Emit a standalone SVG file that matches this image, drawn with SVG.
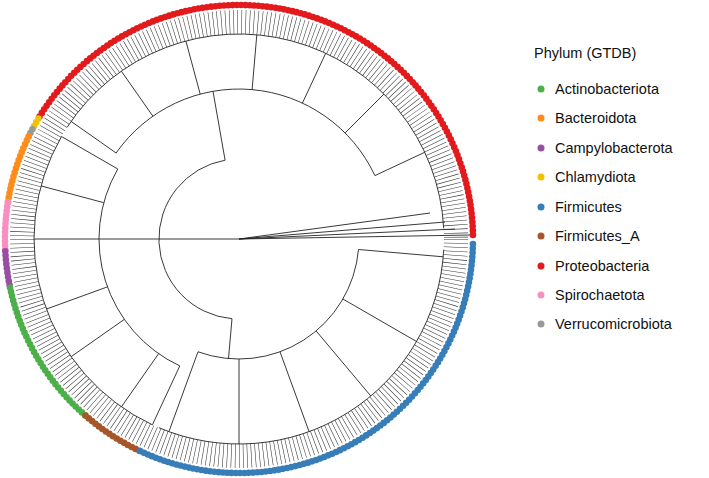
<svg xmlns="http://www.w3.org/2000/svg" width="709" height="478" viewBox="0 0 709 478">
<style>
.br{fill:none;stroke:#222;stroke-width:0.9}
.dot{fill:none;stroke-width:6.6;stroke-linecap:round;stroke-dasharray:0 4.3}
.lt{font-family:"Liberation Sans",Arial,sans-serif;font-size:14.5px;fill:#111}
</style>
<rect width="709" height="478" fill="#fff"/>
<g id="tree" class="br">
<circle cx="239" cy="239" r="217" stroke-width="24" stroke="#333" stroke-dasharray="0.55 3.5" fill="none"/>
<path d="M225.1,160.2 A80,80 0 0 0 232,318.7"/>
<path d="M239,239 L159,239 M239,239 L470,235 M239,239 L455,229 M239,239 L445,222 M239,239 L430,213"/>
<path d="M225.1,160.2 L213,91.3 M374.9,175.6 A150,150 0 0 0 116.1,153"/>
<path d="M374.9,175.6L424.7,152.3M345.1,132.9L383.9,94.1M302.4,103.1L325.7,53.3M252.1,89.6L256.8,34.8M200.2,94.1L185.9,41M152.9,116.2L121.3,71.1M116.1,153L71.1,121.4"/>
<path d="M232,318.7 L228.5,358.5 M198,351.8 A120,120 0 0 0 358.5,249.5"/>
<path d="M198,351.8L168.9,431.7M239,359L239,444M280,351.8L309.1,431.7M316.2,331L370.8,396M342.9,299L416.5,341.5M358.5,249.5L443.2,256.8"/>
<path d="M159,239 L99,239 M117.8,169 A140,140 0 0 0 179.8,365.9"/>
<path d="M117.8,169L61.5,136.5M103.8,202.7L41,185.9M99,239L34,239M107.4,286.9L46.3,309.1M124.3,319.4L71.1,356.7M158.6,353.7L121.3,407M179.8,365.9L152.4,424.8"/>
<path d="M443.7,228.3 A205,205 0 0 0 67.1,127.3 M61.5,136.5 A205,205 0 0 0 152.4,424.8 M158.9,427.7 A205,205 0 0 0 443.7,249.7"/>
</g>
<g id="tips">
<path class="dot" stroke="#e31a1c" d="M472.96,234.9 A234,234 0 0 0 38.4,118.5"/>
<path class="dot" stroke="#f2c200" d="M38.4,118.5 A234,234 0 0 0 32.4,129.2"/>
<path class="dot" stroke="#999" d="M32.4,129.2 A234,234 0 0 0 28.7,136.4"/>
<path class="dot" stroke="#ff8c1a" d="M28.7,136.4 A234,234 0 0 0 7.9,202.4"/>
<path class="dot" stroke="#f78fc0" d="M7.9,202.4 A234,234 0 0 0 5.3,251.2"/>
<path class="dot" stroke="#984ea3" d="M5.3,251.2 A234,234 0 0 0 10.1,287.7"/>
<path class="dot" stroke="#4daf4a" d="M10.1,287.7 A234,234 0 0 0 85.5,415.6"/>
<path class="dot" stroke="#a65628" d="M85.5,415.6 A234,234 0 0 0 140.1,451.1"/>
<path class="dot" stroke="#377eb8" d="M140.1,451.1 A234,234 0 0 0 472.96,243.1"/>
</g>
<g id="legend">
<text x="534" y="58" class="lt" font-size="18.5">Phylum (GTDB)</text>
<circle cx="541" cy="89" r="3.5" fill="#4daf4a"/><text x="555" y="94" class="lt">Actinobacteriota</text>
<circle cx="541" cy="118" r="3.5" fill="#ff8c1a"/><text x="555" y="123" class="lt">Bacteroidota</text>
<circle cx="541" cy="148" r="3.5" fill="#984ea3"/><text x="555" y="153" class="lt">Campylobacterota</text>
<circle cx="541" cy="177" r="3.5" fill="#f2c200"/><text x="555" y="182" class="lt">Chlamydiota</text>
<circle cx="541" cy="207" r="3.5" fill="#377eb8"/><text x="555" y="212" class="lt">Firmicutes</text>
<circle cx="541" cy="236" r="3.5" fill="#a65628"/><text x="555" y="241" class="lt">Firmicutes_A</text>
<circle cx="541" cy="266" r="3.5" fill="#e31a1c"/><text x="555" y="271" class="lt">Proteobacteria</text>
<circle cx="541" cy="295" r="3.5" fill="#f78fc0"/><text x="555" y="300" class="lt">Spirochaetota</text>
<circle cx="541" cy="324" r="3.5" fill="#999"/><text x="555" y="329" class="lt">Verrucomicrobiota</text>
</g>
</svg>
